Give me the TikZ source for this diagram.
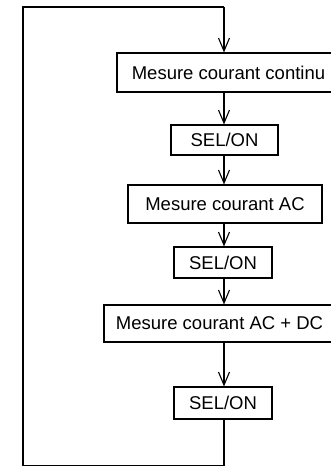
\documentclass[tikz,border=0pt]{standalone}
\usepackage{fontspec}
\setmainfont{Liberation Sans}
\usetikzlibrary{arrows.meta}
\begin{document}
\begin{tikzpicture}[x=1pt,y=-1pt,
  box/.style={draw, line width=1.1pt, inner sep=0pt, font=\fontsize{18.5}{20}\selectfont},
  flow/.style={line width=1.2pt, -{Straight Barb[length=13pt,width=11pt,line width=1.1pt]}},
  line/.style={line width=1.2pt}]
\useasboundingbox (0,0) rectangle (331,467);
\clip (0,0) rectangle (331,467);
\node[box, minimum width=223pt, minimum height=39pt] (b1) at (228.5,72.5) {Mesure courant continu};
\node[box, minimum width=107pt, minimum height=30pt] (s1) at (224.5,140) {SEL/ON};
\node[box, minimum width=194pt, minimum height=38pt] (b2) at (225,204) {Mesure courant AC};
\node[box, minimum width=98pt, minimum height=31pt] (s2) at (223,262.5) {SEL/ON};
\node[box, minimum width=231pt, minimum height=37pt] (b3) at (219.5,323.5) {Mesure courant AC + DC};
\node[box, minimum width=98pt, minimum height=32pt] (s3) at (223,403) {SEL/ON};
\coordinate (bl) at (23,465.5);
\coordinate (tl) at (23,7);
\coordinate (tr) at (224,7);
\draw[flow] (b1.south -| tr) -- (s1.north -| tr);
\draw[flow] (s1.south -| tr) -- (b2.north -| tr);
\draw[flow] (b2.south -| tr) -- (s2.north -| tr);
\draw[flow] (s2.south -| tr) -- (b3.north -| tr);
\draw[flow] (b3.south -| tr) -- (s3.north -| tr);
\draw[line] (s3.south -| tr) -- (bl -| tr) -- (bl) -- (tl) -- (tr);
\draw[flow] (tr) -- (b1.north -| tr);
\end{tikzpicture}
\end{document}
